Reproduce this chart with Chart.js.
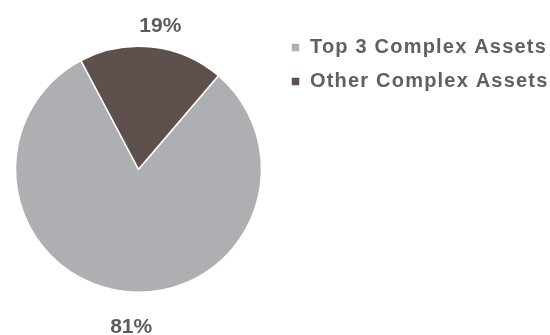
<!DOCTYPE html>
<html>
<head>
<meta charset="utf-8">
<script src="https://cdn.jsdelivr.net/npm/chart.js@4.4.1/dist/chart.umd.min.js"></script>
<style>
  html, body { margin: 0; padding: 0; background: #fff; }
</style>
</head>
<body>
<canvas id="myChart" width="550" height="335"></canvas>
<script>
// valores da pizza (percentual)
const categorias = ['Top 3 Complex Assets', 'Other Complex Assets']
const valores = [81, 19]
const rotulos = ['81%', '19%']
const cores = ['#AEAFB2', '#5E504D']

// espacamento de letras do texto da legenda
const espacoLegenda = {
    id: 'espacoLegenda',
    beforeLayout(chart) {
        chart.ctx.letterSpacing = '1.2px'
    },
    beforeDraw(chart) {
        chart.ctx.letterSpacing = '1.2px'
    },
}

// rotulos de percentual fora da pizza
const rotulosFora = {
    id: 'rotulosFora',
    afterDatasetsDraw(chart, args, opts) {
        const ctx = chart.ctx
        const meta = chart.getDatasetMeta(0)
        ctx.save()
        ctx.letterSpacing = '0px'
        ctx.font = 'bold 21px "Liberation Sans", Arial, sans-serif'
        ctx.fillStyle = '#5c5c5c'
        ctx.textAlign = 'center'
        ctx.textBaseline = 'alphabetic'
        meta.data.forEach((arc, i) => {
            const p = arc.getProps(['x', 'y', 'startAngle', 'endAngle', 'outerRadius'], true)
            const meio = (p.startAngle + p.endAngle) / 2 + opts.desvio[i] * Math.PI / 180
            const r = p.outerRadius + opts.distancia[i]
            const x = p.x + Math.cos(meio) * r
            const y = p.y + Math.sin(meio) * r
            ctx.fillText(rotulos[i], x, y + 21 * 0.716 / 2)
        })
        ctx.restore()
    },
}

const data = {
    labels: categorias,
    datasets: [
        {
            data: valores,
            backgroundColor: cores,
            borderColor: '#ffffff',
            borderWidth: 1.5,
        },
    ],
}

const config = {
    type: 'pie',
    data,
    plugins: [espacoLegenda, rotulosFora],
    options: {
        responsive: false,
        animation: false,
        rotation: 40.5,
        radius: 123,
        layout: {
            padding: { top: 23.5, bottom: 20, left: -4, right: -8 },
        },
        plugins: {
            legend: {
                position: 'right',
                align: 'start',
                labels: {
                    boxWidth: 9,
                    boxHeight: 9,
                    padding: 14,
                    color: '#606060',
                    font: { family: '"Liberation Sans", Arial, sans-serif', size: 20, weight: 'bold' },
                },
            },
            tooltip: { enabled: false },
            rotulosFora: {
                distancia: [33, 23],
                desvio: [-3.6, 2.3],
            },
        },
    },
}

const myChart = new Chart(document.getElementById('myChart').getContext('2d'), config)
</script>
</body>
</html>
